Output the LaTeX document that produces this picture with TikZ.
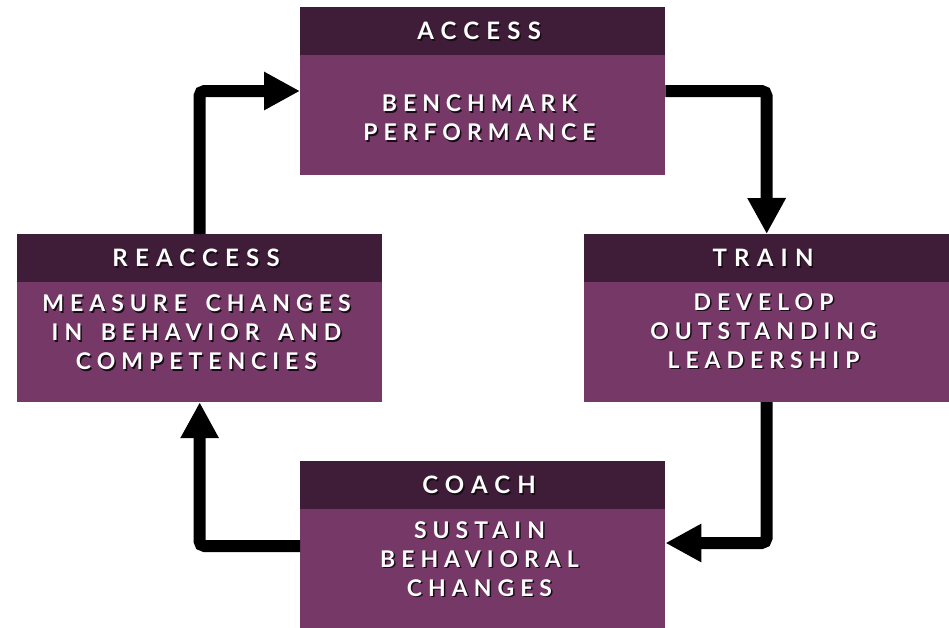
\documentclass[tikz,border=0pt]{standalone}
\usepackage{fontspec}
\setmainfont{Lato}
\newfontfamily\hdrfont{Lato}[LetterSpace=30]
\newfontfamily\bdyfont{Lato}[LetterSpace=26]
\usetikzlibrary{arrows.meta}
\definecolor{hdrc}{RGB}{63,29,56}
\definecolor{bdyc}{RGB}{117,56,103}
\definecolor{shc}{RGB}{25,12,22}
\newlength\lsk
\newcommand\sh[1]{\kern-\lsk\rlap{\hspace{1.5pt}\raisebox{-1.5pt}[0pt][0pt]{\textcolor{shc}{#1}}}#1}
\newcommand\ws{\hspace{7pt}}
\tikzset{
  hdr/.style={fill=hdrc, minimum width=365pt, minimum height=48pt, inner sep=0pt, text=white,
    font={\hdrfont\bfseries\fontsize{24}{29}\selectfont\setlength\lsk{7.2pt}}},
  bdy/.style={fill=bdyc, minimum width=365pt, minimum height=120pt, inner sep=0pt},
  btxt/.style={text=white, align=center, inner sep=0pt,
    font={\bdyfont\bfseries\fontsize{23}{29}\selectfont\setlength\lsk{6pt}}},
  arr/.style={line width=12pt, rounded corners=5pt, -{Triangle[length=36pt,width=36pt]}}
}
\begin{document}
\begin{tikzpicture}[x=1pt,y=-1pt]
\useasboundingbox (0,0) rectangle (949,627);
% ACCESS
\node[hdr, anchor=north west] (acch) at (300,7) {\sh{ACCESS}};
\node[bdy, anchor=north] (accb) at ([yshift=0.6pt]acch.south) {};
\node[btxt] (acct) at (482.5,118) {\sh{BENCHMARK}\\\sh{PERFORMANCE}};
% REACCESS
\node[hdr, anchor=north west] (reh) at (17,234) {\sh{REACCESS}};
\node[bdy, anchor=north] (reb) at ([yshift=0.6pt]reh.south) {};
\node[btxt] (ret) at (199.5,332.5) {\sh{MEASURE \ws CHANGES}\\\sh{IN \ws BEHAVIOR \ws AND}\\\sh{COMPETENCIES}};
% TRAIN
\node[hdr, anchor=north west] (trh) at (584,234) {\sh{TRAIN}};
\node[bdy, anchor=north] (trb) at ([yshift=0.6pt]trh.south) {};
\node[btxt] (trt) at (766.5,331) {\sh{DEVELOP}\\\sh{OUTSTANDING}\\\sh{LEADERSHIP}};
% COACH
\node[hdr, anchor=north west] (coh) at (300,461) {\sh{COACH}};
\node[bdy, anchor=north] (cob) at ([yshift=0.6pt]coh.south) {};
\node[btxt] (cot) at (482.5,559) {\sh{SUSTAIN}\\\sh{BEHAVIORAL}\\\sh{CHANGES}};
% corner points
\coordinate (c1) at (766.5,91);
\coordinate (c2) at (766.5,543);
\coordinate (c3) at (199.5,546);
\coordinate (c4) at (199.5,91);
% connectors
\draw[arr] (accb.east |- c1) -- (c1) -- (trh.north);
\draw[arr] (trb.south) -- (c2) -- (cob.east |- c2);
\draw[arr] (cob.west |- c3) -- (c3) -- (reb.south);
\draw[arr] (reh.north) -- (c4) -- (accb.west |- c4);
\end{tikzpicture}
\end{document}
